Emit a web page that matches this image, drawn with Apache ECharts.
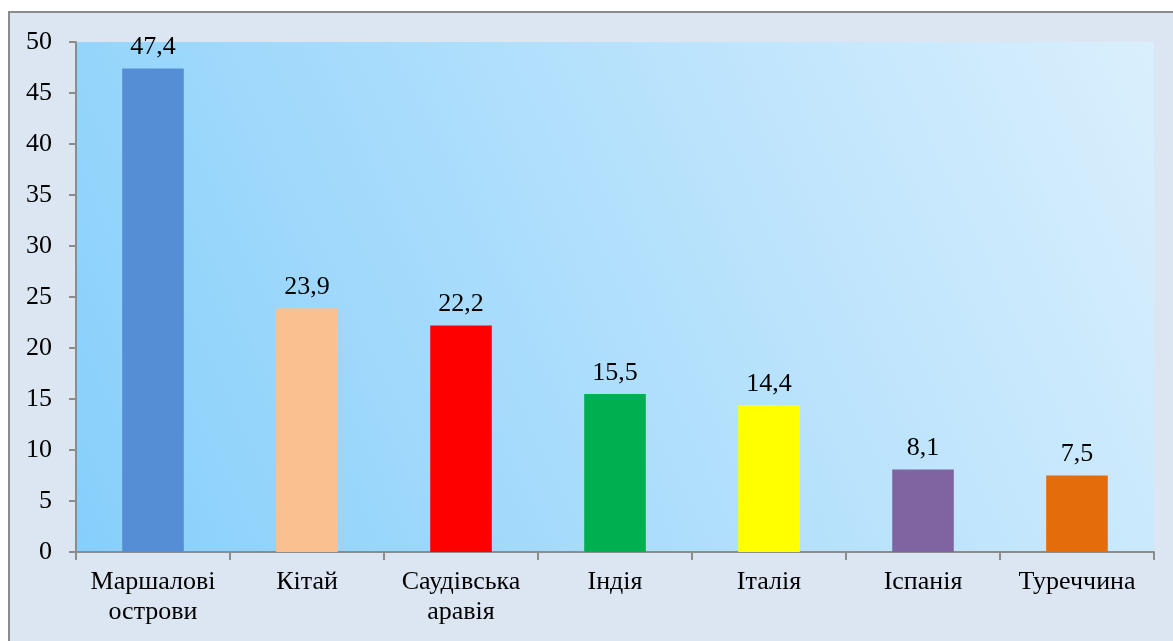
<!DOCTYPE html>
<html>
<head>
<meta charset="utf-8">
<script src="https://cdn.jsdelivr.net/npm/echarts@6/dist/echarts.min.js"></script>
<style>
  html, body { margin: 0; padding: 0; background: #fff; }
  #chart { width: 1173px; height: 641px; }
</style>
</head>
<body>
<div id="chart"></div>
<script>
const countries = ['Маршалові\nострови', 'Кітай', 'Саудівська\nаравія', 'Індія', 'Італія', 'Іспанія', 'Туреччина']
const values = [47.4, 23.9, 22.2, 15.5, 14.4, 8.1, 7.5]
const barColors = ['#558ED5', '#FAC090', '#FF0000', '#00B050', '#FFFF00', '#8064A2', '#E46C0A']
const yTicks = [0, 5, 10, 15, 20, 25, 30, 35, 40, 45, 50]

const font = "'Liberation Serif', serif"

const chart = echarts.init(document.getElementById('chart'))

const option = {
  backgroundColor: '#fff',
  animation: false,
  graphic: [{
    type: 'rect',
    z: -10,
    shape: { x: 9, y: 12, width: 1180, height: 640 },
    style: { fill: '#dce6f2', stroke: '#8c8c8c', lineWidth: 2 }
  }],
  grid: {
    left: 76,
    right: 19,
    top: 42,
    bottom: 89,
    show: true,
    borderWidth: 0,
    backgroundColor: {
      type: 'linear',
      x: 0, y: 1, x2: 1, y2: 0,
      colorStops: [
        { offset: 0, color: '#86cffb' },
        { offset: 1, color: '#daeffd' }
      ]
    }
  },
  xAxis: {
    type: 'category',
    data: countries,
    axisLine: { lineStyle: { color: '#8c8c8c', width: 2 } },
    axisTick: { show: true, length: 8, lineStyle: { color: '#8c8c8c', width: 2 } },
    axisLabel: {
      interval: 0,
      margin: 15,
      fontFamily: font,
      fontSize: 26,
      lineHeight: 30,
      color: '#000'
    }
  },
  yAxis: {
    type: 'value',
    min: 0,
    max: 50,
    interval: 5,
    splitLine: { show: false },
    axisLine: { show: true, lineStyle: { color: '#8c8c8c', width: 2 } },
    axisTick: { show: true, length: 7, lineStyle: { color: '#8c8c8c', width: 2 } },
    axisLabel: {
      margin: 24,
      fontFamily: font,
      fontSize: 26,
      color: '#000',
      formatter: v => yTicks.includes(v) ? String(v) : ''
    }
  },
  series: [{
    type: 'bar',
    barWidth: '40%',
    data: values.map((v, i) => ({ value: v, itemStyle: { color: barColors[i] } })),
    label: {
      show: true,
      position: 'top',
      distance: 8,
      fontFamily: font,
      fontSize: 26,
      color: '#000',
      formatter: p => String(p.value).replace('.', ',')
    }
  }]
}

chart.setOption(option)
</script>
</body>
</html>
